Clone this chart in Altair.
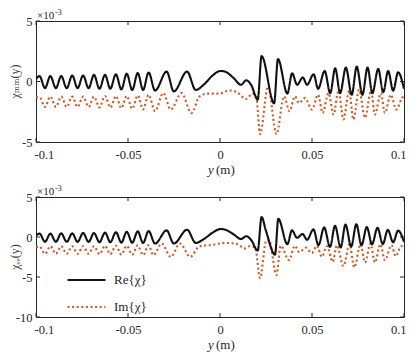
import altair as alt
import pandas as pd

# ---------------- data (values in units of 1e-3) ----------------
SERIES = ["Re{χ}", "Im{χ}"]
X_TICKS = [-0.1, -0.05, 0, 0.05, 0.1]
Y_TICKS_MM = [-5, 0, 5]
Y_TICKS_EE = [-10, -5, 0, 5]

mm_re_x = [-0.1, -0.0981, -0.0951, -0.0922, -0.0892, -0.0863, -0.0833, -0.0803, -0.0774, -0.0744,
           -0.0714, -0.0685, -0.0655, -0.0625, -0.0596, -0.0566, -0.0536, -0.0507, -0.0477, -0.0447,
           -0.0418, -0.0388, -0.0353, -0.029, -0.0251, -0.0179, -0.0132, -0.0084, -0.004, 0.0003,
           0.003, 0.0073, 0.0114, 0.0143, 0.017, 0.0205, 0.0226, 0.0294, 0.0315, 0.0366,
           0.0392, 0.0419, 0.045, 0.0473, 0.0509, 0.0533, 0.0569, 0.0599, 0.0626, 0.0653,
           0.0684, 0.0716, 0.0743, 0.0774, 0.0802, 0.0828, 0.086, 0.0887, 0.0914, 0.0941, 0.0968, 0.1]
mm_re_y = [0.2, 0.45, -0.55, 0.45, -0.55, 0.45, -0.55, 0.5, -0.55, 0.5,
           -0.55, 0.55, -0.6, 0.55, -0.6, 0.6, -0.65, 0.65, -0.7, 0.7,
           -0.7, 0.75, -0.75, 0.82, -0.82, 0.82, -0.7, -0.2, 0.5, 0.87,
           0.8, 0.3, -0.27, 0.1, -0.3, -1.5, 2.1, -1.8, 1.86, -1.0,
           0.68, -0.27, 0.33, -0.27, 0.6, -0.6, 0.87, -0.96, 1.09, -0.96,
           1.15, -1.09, 1.23, -1.09, 1.15, -0.96, 1.04, -0.88, 0.87, -0.76, 0.76, -0.6]

mm_im_x = [-0.1, -0.0981, -0.0951, -0.0922, -0.0892, -0.0863, -0.0833, -0.0803, -0.0774, -0.0744,
           -0.0714, -0.0685, -0.0655, -0.0625, -0.0596, -0.0566, -0.0536, -0.0507, -0.0477, -0.0447,
           -0.0418, -0.0388, -0.0353, -0.0308, -0.0268, -0.0209, -0.0155, -0.0111, -0.0067, -0.0003,
           0.0051, 0.0094, 0.0141, 0.0177, 0.0197, 0.0218, 0.0261, 0.0307, 0.0348, 0.0378,
           0.0407, 0.0429, 0.0461, 0.05, 0.0533, 0.0558, 0.059, 0.0617, 0.0644, 0.0671,
           0.0702, 0.0725, 0.0756, 0.0788, 0.0821, 0.0842, 0.0874, 0.0896, 0.0928, 0.0958, 0.0989, 0.1]
mm_im_y = [-1.3, -1.3, -2.1, -1.25, -2.1, -1.25, -2.1, -1.25, -2.1, -1.25,
           -2.1, -1.25, -2.15, -1.2, -2.15, -1.2, -2.2, -1.2, -2.25, -1.15,
           -2.3, -1.1, -2.45, -0.96, -2.32, -0.96, -2.6, -1.23, -1.0, -1.0,
           -0.74, -0.9, -1.45, -1.0, -1.3, -4.35, -0.41, -4.35, -1.23, -2.46,
           -1.23, -1.78, -1.37, -2.32, -1.09, -2.6, -0.96, -2.73, -0.76, -3.14,
           -0.76, -3.14, -0.68, -3.0, -0.76, -2.73, -0.96, -2.6, -1.09, -2.32, -1.37, -1.2]

ee_re_x = [-0.1, -0.0981, -0.0951, -0.0922, -0.0892, -0.0863, -0.0833, -0.0803, -0.0774, -0.0744,
           -0.0714, -0.0685, -0.0655, -0.0625, -0.0596, -0.0566, -0.0536, -0.0507, -0.0477, -0.0447,
           -0.0418, -0.0388, -0.0353, -0.029, -0.0251, -0.0179, -0.0132, -0.0084, -0.004, 0.0003,
           0.003, 0.0073, 0.0114, 0.0143, 0.017, 0.0205, 0.0226, 0.0249, 0.0299, 0.0317,
           0.0366, 0.0391, 0.0419, 0.0449, 0.0473, 0.0508, 0.0535, 0.0566, 0.0598, 0.0625,
           0.0656, 0.0682, 0.0713, 0.0741, 0.0769, 0.0798, 0.0826, 0.0856, 0.0885, 0.0912,
           0.0941, 0.0968, 0.1]
ee_re_y = [0.2, 0.42, -0.6, 0.42, -0.6, 0.45, -0.6, 0.45, -0.62, 0.5,
           -0.62, 0.5, -0.65, 0.55, -0.65, 0.6, -0.7, 0.65, -0.72, 0.7,
           -0.75, 0.75, -0.82, 0.83, -0.82, 0.91, -0.74, -0.2, 0.55, 1.0,
           0.9, 0.35, -0.25, 0.1, -0.4, -1.7, 2.5, 0.83, -2.2, 2.28,
           -0.9, 0.83, -0.1, 0.37, -0.35, 0.95, -1.03, 1.2, -1.24, 1.4,
           -1.3, 1.55, -1.2, 1.6, -1.03, 1.24, -0.92, 1.14, -0.88, 0.9,
           -0.66, 0.8, -0.6]

ee_im_x = [-0.1, -0.0981, -0.0951, -0.0922, -0.0892, -0.0863, -0.0833, -0.0803, -0.0774, -0.0744,
           -0.0714, -0.0685, -0.0655, -0.0625, -0.0596, -0.0566, -0.0536, -0.0507, -0.0477, -0.0447,
           -0.0418, -0.0388, -0.0362, -0.0317, -0.0268, -0.0218, -0.0161, -0.0111, -0.0057, 0.0033,
           0.0096, 0.0132, 0.0159, 0.0191, 0.0218, 0.0251, 0.0267, 0.0307, 0.033, 0.0375,
           0.0407, 0.0431, 0.0466, 0.0499, 0.0526, 0.0554, 0.0581, 0.0613, 0.0635, 0.0671,
           0.0704, 0.073, 0.0764, 0.0788, 0.0818, 0.0842, 0.0872, 0.0896, 0.0932, 0.0955, 0.0985, 0.1]
ee_im_y = [-1.3, -1.2, -2.1, -1.15, -2.1, -1.15, -2.1, -1.15, -2.1, -1.15,
           -2.1, -1.15, -2.15, -1.1, -2.15, -1.1, -2.2, -1.1, -2.2, -1.05,
           -2.25, -1.03, -2.27, -0.82, -2.48, -0.82, -2.48, -1.15, -1.03, -0.74,
           -0.9, -1.44, -1.15, -1.31, -5.16, -0.45, -0.4, -4.75, -1.1, -2.89,
           -1.1, -1.9, -1.33, -2.0, -1.1, -2.48, -1.15, -3.1, -1.03, -3.63,
           -0.9, -3.8, -0.9, -3.18, -0.82, -3.18, -0.9, -2.89, -1.03, -2.4, -1.15, -1.2]

# ---------------- styling ----------------
FONT = "Liberation Serif, Times New Roman, DejaVu Serif, serif"
AX = "#262626"
W = 368
LBL = "replace(format(datum.value, '~g'), '\u2212', '-')"


def make_df(rx, ry, ix, iy):
    assert len(rx) == len(ry) and len(ix) == len(iy)
    return pd.concat([
        pd.DataFrame({"x": rx, "v": ry, "s": SERIES[0]}),
        pd.DataFrame({"x": ix, "v": iy, "s": SERIES[1]}),
    ], ignore_index=True)


def txt(s, x, y, size, **kw):
    return alt.Chart(pd.DataFrame({"t": [s]})).mark_text(
        font=FONT, fontSize=size, color=kw.pop("color", AX), **kw
    ).encode(text="t:N", x=alt.value(x), y=alt.value(y))


def panel(df, ydom, yticks, ytitle, H, show_legend):
    xs = alt.Scale(domain=[-0.1, 0.1], nice=False, zero=False)
    ys = alt.Scale(domain=ydom, nice=False, zero=False)
    xaxis = alt.Axis(values=X_TICKS, title=None, grid=False, domain=False, ticks=False,
                     labelPadding=6, labelFont=FONT, labelFontSize=12.5, labelColor=AX,
                     labelExpr=LBL, labelFlush=True, labelFlushOffset=2, labelOverlap=False)
    yaxis = alt.Axis(values=yticks, title=None, grid=False, domain=False, ticks=False,
                     labelPadding=4, labelFont=FONT, labelFontSize=12.5, labelColor=AX,
                     labelExpr=LBL, labelOverlap=False)
    if show_legend:
        leg = alt.Legend(title=None, orient="none", legendX=30, legendY=75,
                         symbolType="stroke", symbolSize=1444, symbolStrokeWidth=2.1,
                         clipHeight=16, rowPadding=11, labelFont=FONT, labelFontSize=13,
                         labelColor=AX, labelOffset=7, padding=0)
    else:
        leg = None
    color = alt.Color("s:N", scale=alt.Scale(domain=SERIES, range=["#111111", "#D95319"]), legend=leg)
    dash = alt.StrokeDash("s:N", scale=alt.Scale(domain=SERIES, range=[[1, 0], [2, 2.6]]), legend=leg)

    base = alt.Chart(df).mark_line(interpolate="monotone", strokeWidth=2.1, clip=True).encode(
        x=alt.X("x:Q", scale=xs, axis=xaxis),
        y=alt.Y("v:Q", scale=ys, axis=yaxis),
        color=color,
        strokeDash=dash,
    )
    im = base.transform_filter(alt.datum.s == SERIES[1])
    re = base.transform_filter(alt.datum.s == SERIES[0])

    xt = alt.Chart(pd.DataFrame({"t": X_TICKS})).mark_rule(color=AX, strokeWidth=1)
    t_bot = xt.encode(x=alt.X("t:Q", scale=xs, axis=xaxis), y=alt.value(H), y2=alt.value(H - 4))
    t_top = xt.encode(x=alt.X("t:Q", scale=xs, axis=xaxis), y=alt.value(0), y2=alt.value(4))
    yt = alt.Chart(pd.DataFrame({"t": yticks})).mark_rule(color=AX, strokeWidth=1)
    t_left = yt.encode(y=alt.Y("t:Q", scale=ys, axis=yaxis), x=alt.value(0), x2=alt.value(4))
    t_right = yt.encode(y=alt.Y("t:Q", scale=ys, axis=yaxis), x=alt.value(W), x2=alt.value(W - 4))

    exp1 = txt("×10", 1, -2, 11, align="left", baseline="alphabetic")
    exp2 = txt("-3", 19, -6, 8, align="left", baseline="alphabetic")
    xl1 = txt("y", 172, H + 32, 13, align="left", baseline="alphabetic", fontStyle="italic")
    xl2 = txt("(m)", 180, H + 32, 13, align="left", baseline="alphabetic")
    yl = txt(ytitle, -21, H / 2, 12, align="center", baseline="middle", angle=270, color="#404040")

    return alt.layer(im, re, t_bot, t_top, t_left, t_right, exp1, exp2, xl1, xl2, yl).properties(
        width=W, height=H)


top = panel(make_df(mm_re_x, mm_re_y, mm_im_x, mm_im_y), [-5, 5], Y_TICKS_MM, "χₘₘ(y)", 121, False)
bottom = panel(make_df(ee_re_x, ee_re_y, ee_im_x, ee_im_y), [-10, 5], Y_TICKS_EE, "χₑₑ(y)", 120, True)

chart = alt.vconcat(top, bottom, spacing=6).resolve_scale(
    x="independent", y="independent", color="independent", strokeDash="independent"
).resolve_legend(color="independent", strokeDash="independent").properties(
    padding=0, background="white"
).configure_view(stroke=AX, strokeWidth=1)

chart.save("out.html", embed_options={"renderer": "svg", "actions": False})
